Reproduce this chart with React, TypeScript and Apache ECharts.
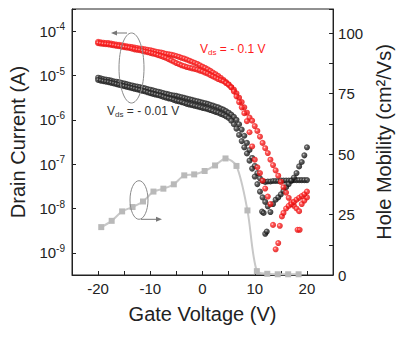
import React, { useEffect, useRef } from 'react';
import * as echarts from 'echarts';

// Gate voltage (V) vs drain current (A), two sweeps per drain bias
const redSweepA: [number, number][] = [
  [-20, 5.37e-5], [-19.5, 5.25e-5], [-19, 5.13e-5], [-18.5, 5.07e-5], [-18, 5.01e-5], [-17.5, 4.9e-5],
  [-17, 4.79e-5], [-16.5, 4.68e-5], [-16, 4.57e-5], [-15.5, 4.47e-5], [-15, 4.37e-5], [-14.5, 4.27e-5],
  [-14, 4.17e-5], [-13.5, 4.03e-5], [-13, 3.89e-5], [-12.5, 3.8e-5], [-12, 3.72e-5], [-11.5, 3.59e-5],
  [-11, 3.47e-5], [-10.5, 3.35e-5], [-10, 3.24e-5], [-9.5, 3.13e-5], [-9, 3.02e-5], [-8.5, 2.88e-5],
  [-8, 2.75e-5], [-7.5, 2.63e-5], [-7, 2.51e-5], [-6.5, 2.34e-5], [-6, 2.19e-5], [-5.5, 2.04e-5],
  [-5, 1.91e-5], [-4.5, 1.8e-5], [-4, 1.7e-5], [-3.5, 1.62e-5], [-3, 1.55e-5], [-2.5, 1.5e-5],
  [-2, 1.45e-5], [-1.5, 1.4e-5], [-1, 1.35e-5], [-0.5, 1.29e-5], [0, 1.23e-5], [0.5, 1.16e-5],
  [1, 1.1e-5], [1.5, 1.02e-5], [2, 9.55e-6], [2.5, 8.91e-6], [3, 8.32e-6], [3.5, 7.85e-6],
  [4, 7.41e-6], [4.5, 6.76e-6], [5, 6.17e-6], [5.5, 5.37e-6], [6, 4.37e-6], [6.5, 3.39e-6],
  [7, 2.51e-6], [7.5, 1.91e-6], [8, 1.41e-6], [8.5, 9.33e-7], [9, 5.25e-7], [9.5, 2.51e-7],
  [10, 1.26e-7], [10.5, 8.51e-8], [11, 6.31e-8], [11.5, 4.27e-8], [12, 2.82e-8], [12.5, 1.86e-8],
  [13, 1.26e-8], [13.5, 4.27e-9], [14, 1.2e-9], [14.5, 1.66e-9], [14.8, 4.07e-9], [15.2, 6.61e-9],
  [15.5, 7.94e-9], [16, 1.0e-8], [16.5, 1.15e-8], [17, 1.26e-8], [17.5, 1.41e-8], [18, 1.58e-8],
  [18.5, 1.74e-8], [19, 1.91e-8], [19.5, 2.09e-8], [20, 2.4e-8], [18.2, 3.31e-9], [18.6, 3.31e-9],
];

const redSweepB: [number, number][] = [
  [-20, 5.75e-5], [-19.5, 5.62e-5], [-19, 5.5e-5], [-18.5, 5.43e-5], [-18, 5.37e-5], [-17.5, 5.25e-5],
  [-17, 5.13e-5], [-16.5, 5.01e-5], [-16, 4.9e-5], [-15.5, 4.79e-5], [-15, 4.68e-5], [-14.5, 4.57e-5],
  [-14, 4.47e-5], [-13.5, 4.37e-5], [-13, 4.27e-5], [-12.5, 4.17e-5], [-12, 4.07e-5], [-11.5, 3.98e-5],
  [-11, 3.89e-5], [-10.5, 3.8e-5], [-10, 3.72e-5], [-9.5, 3.59e-5], [-9, 3.47e-5], [-8.5, 3.39e-5],
  [-8, 3.31e-5], [-7.5, 3.2e-5], [-7, 3.09e-5], [-6.5, 3.02e-5], [-6, 2.95e-5], [-5.5, 2.85e-5],
  [-5, 2.75e-5], [-4.5, 2.63e-5], [-4, 2.51e-5], [-3.5, 2.4e-5], [-3, 2.29e-5], [-2.5, 2.16e-5],
  [-2, 2.04e-5], [-1.5, 1.93e-5], [-1, 1.82e-5], [-0.5, 1.7e-5], [0, 1.58e-5], [0.5, 1.48e-5],
  [1, 1.38e-5], [1.5, 1.27e-5], [2, 1.17e-5], [2.5, 1.07e-5], [3, 9.77e-6], [3.5, 8.81e-6],
  [4, 7.94e-6], [4.5, 7.08e-6], [5, 6.31e-6], [5.5, 5.5e-6], [6, 4.79e-6], [6.5, 3.98e-6],
  [7, 3.16e-6], [7.5, 2.51e-6], [8, 1.91e-6], [8.5, 1.45e-6], [9, 1.12e-6], [9.5, 9.55e-7],
  [10, 7.24e-7], [10.5, 5.62e-7], [11, 4.17e-7], [11.5, 3.02e-7], [12, 2.29e-7], [12.5, 1.78e-7],
  [13, 1.26e-7], [13.5, 9.55e-8], [14, 7.24e-8], [14.5, 5.5e-8], [15, 3.98e-8], [15.5, 3.02e-8],
  [16, 2.29e-8], [16.5, 1.74e-8], [17, 1.38e-8], [17.5, 1.15e-8], [18, 1.0e-8], [18.5, 8.71e-9],
  [19, 1.26e-8], [19.5, 1.51e-8], [20, 1.78e-8],
];

const blackSweepA: [number, number][] = [
  [-20, 7.94e-6], [-19.5, 7.67e-6], [-19, 7.41e-6], [-18.5, 7.24e-6], [-18, 7.08e-6], [-17.5, 6.84e-6],
  [-17, 6.61e-6], [-16.5, 6.38e-6], [-16, 6.17e-6], [-15.5, 5.96e-6], [-15, 5.75e-6], [-14.5, 5.56e-6],
  [-14, 5.37e-6], [-13.5, 5.19e-6], [-13, 5.01e-6], [-12.5, 4.84e-6], [-12, 4.68e-6], [-11.5, 4.52e-6],
  [-11, 4.37e-6], [-10.5, 4.17e-6], [-10, 3.98e-6], [-9.5, 3.85e-6], [-9, 3.72e-6], [-8.5, 3.59e-6],
  [-8, 3.47e-6], [-7.5, 3.31e-6], [-7, 3.16e-6], [-6.5, 3.05e-6], [-6, 2.95e-6], [-5.5, 2.82e-6],
  [-5, 2.69e-6], [-4.5, 2.6e-6], [-4, 2.51e-6], [-3.5, 2.4e-6], [-3, 2.29e-6], [-2.5, 2.21e-6],
  [-2, 2.14e-6], [-1.5, 2.07e-6], [-1, 2.0e-6], [-0.5, 1.93e-6], [0, 1.86e-6], [0.5, 1.8e-6],
  [1, 1.74e-6], [1.5, 1.66e-6], [2, 1.58e-6], [2.5, 1.51e-6], [3, 1.45e-6], [3.5, 1.36e-6],
  [4, 1.29e-6], [4.5, 1.2e-6], [5, 1.1e-6], [5.5, 9.55e-7], [6, 7.94e-7], [6.5, 6.31e-7],
  [7, 4.57e-7], [7.5, 3.31e-7], [8, 2.4e-7], [8.5, 1.74e-7], [9, 1.2e-7], [9.5, 7.94e-8],
  [10, 5.25e-8], [10.5, 3.55e-8], [11, 2.4e-8], [11.5, 1.78e-8], [12, 1.41e-8], [12.5, 1.12e-8],
  [13, 8.32e-9], [13.5, 1.26e-8], [14, 1.58e-8], [14.5, 1.78e-8], [15, 2.09e-8], [15.5, 2.51e-8],
  [16, 3.02e-8], [16.5, 3.55e-8], [17, 4.27e-8], [17.5, 5.01e-8], [18, 6.31e-8], [18.5, 8.91e-8],
  [19, 1.12e-7], [19.5, 1.58e-7], [20, 2.4e-7], [11.4, 8.51e-9], [11.7, 7.94e-9], [12.0, 2.69e-9],
  [12.3, 3.02e-9],
];

const blackSweepB: [number, number][] = [
  [-20, 8.91e-6], [-19.5, 8.61e-6], [-19, 8.32e-6], [-18.5, 8.13e-6], [-18, 7.94e-6], [-17.5, 7.67e-6],
  [-17, 7.41e-6], [-16.5, 7.24e-6], [-16, 7.08e-6], [-15.5, 6.84e-6], [-15, 6.61e-6], [-14.5, 6.38e-6],
  [-14, 6.17e-6], [-13.5, 5.96e-6], [-13, 5.75e-6], [-12.5, 5.62e-6], [-12, 5.5e-6], [-11.5, 5.31e-6],
  [-11, 5.13e-6], [-10.5, 4.95e-6], [-10, 4.79e-6], [-9.5, 4.62e-6], [-9, 4.47e-6], [-8.5, 4.32e-6],
  [-8, 4.17e-6], [-7.5, 4.03e-6], [-7, 3.89e-6], [-6.5, 3.76e-6], [-6, 3.63e-6], [-5.5, 3.55e-6],
  [-5, 3.47e-6], [-4.5, 3.35e-6], [-4, 3.24e-6], [-3.5, 3.13e-6], [-3, 3.02e-6], [-2.5, 2.92e-6],
  [-2, 2.82e-6], [-1.5, 2.72e-6], [-1, 2.63e-6], [-0.5, 2.54e-6], [0, 2.45e-6], [0.5, 2.37e-6],
  [1, 2.29e-6], [1.5, 2.19e-6], [2, 2.09e-6], [2.5, 2.0e-6], [3, 1.91e-6], [3.5, 1.8e-6],
  [4, 1.7e-6], [4.5, 1.58e-6], [5, 1.45e-6], [5.5, 1.32e-6], [6, 1.17e-6], [6.5, 1.0e-6],
  [7, 7.94e-7], [7.5, 6.03e-7], [8, 4.37e-7], [8.5, 3.02e-7], [9, 2.09e-7], [9.5, 1.38e-7],
  [10, 9.12e-8], [10.5, 6.31e-8], [11, 4.79e-8], [11.5, 4.17e-8], [12, 3.98e-8], [12.5, 4.07e-8],
  [13, 4.07e-8], [13.5, 4.17e-8], [14, 4.17e-8], [14.5, 4.17e-8], [15, 4.27e-8], [15.5, 4.27e-8],
  [16, 4.27e-8], [16.5, 4.27e-8], [17, 4.27e-8], [17.5, 4.37e-8], [18, 4.37e-8], [18.5, 4.37e-8],
  [19, 4.37e-8], [19.5, 4.37e-8], [20, 4.37e-8],
];

// Gate voltage (V) vs hole mobility (cm²/Vs)
const mobility: [number, number][] = [
  [-19.4, 19.8], [-17.4, 22.4], [-15.4, 26.3], [-13.4, 28.1], [-11.4, 30.4], [-9.4, 34.5],
  [-7.5, 35.7], [-5.5, 37.5], [-3.5, 41.2], [-1.6, 41.6], [0.4, 43.0], [2.4, 45.3],
  [4.4, 48.2], [6.5, 45.1], [8.6, 26.7], [10.4, 1.6], [12.4, 0.5], [14.4, 0.3],
  [16.4, 0.3], [18.4, 0.3],
];

const xLabels = [-20, -10, 0, 10, 20];
const mobilityLabels = [0, 25, 50, 75, 100];

const FONT = 'Liberation Sans, Arial, sans-serif';

function sphere(light: string, mid: string, dark: string) {
  return new echarts.graphic.RadialGradient(0.38, 0.38, 0.62, [
    { offset: 0, color: light },
    { offset: 0.35, color: mid },
    { offset: 1, color: dark },
  ]);
}

export default function App() {
  const ref = useRef<HTMLDivElement>(null);
  useEffect(() => {
    document.body.style.margin = '0';
    if (!ref.current) return;
    const chart = echarts.init(ref.current, undefined, { renderer: 'svg' });
    const axisLineStyle = { color: '#222', width: 1 };
    const redStyle = { color: sphere('#ffd6d6', '#ff2a2a', '#dc0000') };
    const blackStyle = { color: sphere('#c8c8c8', '#3a3a3a', '#050505') };
    chart.setOption({
      animation: false,
      backgroundColor: '#ffffff',
      grid: { left: 72, right: 65, top: 9, bottom: 62, show: true, borderColor: '#222', borderWidth: 1 },
      xAxis: {
        type: 'value', min: -25, max: 25, interval: 5,
        name: 'Gate Voltage (V)', nameLocation: 'middle', nameGap: 29,
        nameTextStyle: { fontSize: 20, fontFamily: FONT, color: '#222' },
        axisLine: { onZero: false, lineStyle: axisLineStyle },
        axisTick: { inside: true, length: 4, lineStyle: axisLineStyle },
        axisLabel: {
          fontSize: 15, fontFamily: FONT, color: '#222', margin: 6,
          formatter: (v: number) => (xLabels.includes(v) ? String(v) : ''),
        },
        splitLine: { show: false },
      },
      yAxis: [
        {
          type: 'log', logBase: 10, min: 3.1623e-10, max: 3.1623e-4,
          name: 'Drain Current (A)', nameLocation: 'middle', nameGap: 44,
          nameTextStyle: { fontSize: 20, fontFamily: FONT, color: '#222' },
          axisLine: { onZero: false, lineStyle: axisLineStyle },
          axisTick: { inside: true, length: 4, lineStyle: axisLineStyle },
          axisLabel: {
            fontSize: 15, fontFamily: FONT, color: '#222', margin: 7,
            formatter: (v: number) => {
              const l = Math.log10(v);
              const e = Math.round(l);
              if (Math.abs(l - e) > 0.01) return '';
              return `10{sup|${e}}`;
            },
            rich: { sup: { fontSize: 10, fontFamily: FONT, color: '#222', padding: [0, 0, 9, 0] } },
          },
          splitLine: { show: false },
        },
        {
          type: 'value', min: 0, max: 110, interval: 12.5, position: 'right',
          name: 'Hole Mobility (cm²/Vs)', nameLocation: 'middle', nameGap: 38, nameRotate: 90,
          nameTextStyle: { fontSize: 20, fontFamily: FONT, color: '#222' },
          axisLine: { show: true, onZero: false, lineStyle: axisLineStyle },
          axisTick: { show: true, inside: true, length: 4, lineStyle: axisLineStyle },
          axisLabel: {
            fontSize: 15, fontFamily: FONT, color: '#222', margin: 5,
            formatter: (v: number) => (mobilityLabels.includes(v) ? String(v) : ''),
          },
          splitLine: { show: false },
        },
      ],
      series: [
        {
          type: 'line', yAxisIndex: 1, data: mobility, smooth: 0.3,
          symbol: 'rect', symbolSize: 6,
          itemStyle: { color: '#b9b9b9' },
          lineStyle: { color: '#c8c8c8', width: 2 },
          z: 1,
        },
        { type: 'scatter', yAxisIndex: 0, data: blackSweepB, symbolSize: 6, itemStyle: blackStyle, z: 2 },
        { type: 'scatter', yAxisIndex: 0, data: blackSweepA, symbolSize: 6, itemStyle: blackStyle, z: 2 },
        { type: 'scatter', yAxisIndex: 0, data: redSweepB, symbolSize: 6, itemStyle: redStyle, z: 3 },
        { type: 'scatter', yAxisIndex: 0, data: redSweepA, symbolSize: 6, itemStyle: redStyle, z: 3 },
      ],
      graphic: [
        { type: 'ellipse', shape: { cx: 131.5, cy: 68, rx: 12.5, ry: 35 }, style: { fill: 'none', stroke: '#8a8a8a', lineWidth: 1 }, z: 10 },
        { type: 'line', shape: { x1: 127, y1: 33, x2: 115, y2: 33 }, style: { stroke: '#777', lineWidth: 1 }, z: 10 },
        { type: 'polygon', shape: { points: [[111, 33], [117, 30.5], [117, 35.5]] }, style: { fill: '#777' }, z: 10 },
        { type: 'ellipse', shape: { cx: 139, cy: 200, rx: 9, ry: 19.3 }, style: { fill: 'none', stroke: '#8a8a8a', lineWidth: 1 }, z: 10 },
        { type: 'line', shape: { x1: 141, y1: 219.3, x2: 158, y2: 219.3 }, style: { stroke: '#777', lineWidth: 1 }, z: 10 },
        { type: 'polygon', shape: { points: [[162, 219.3], [156, 216.8], [156, 221.8]] }, style: { fill: '#777' }, z: 10 },
        {
          type: 'text', x: 200, y: 49, z: 10,
          style: {
            text: 'V{sub|ds} = - 0.1 V', fill: '#ff1a1a', fontSize: 12, fontFamily: FONT,
            verticalAlign: 'middle', align: 'left',
            rich: { sub: { fontSize: 8, fontFamily: FONT, fill: '#ff1a1a', padding: [7, 0, 0, 0] } },
          },
        },
        {
          type: 'text', x: 107, y: 111, z: 10,
          style: {
            text: 'V{sub|ds} = - 0.01 V', fill: '#333', fontSize: 12, fontFamily: FONT,
            verticalAlign: 'middle', align: 'left',
            rich: { sub: { fontSize: 8, fontFamily: FONT, fill: '#333', padding: [7, 0, 0, 0] } },
          },
        },
      ],
    });
    return () => chart.dispose();
  }, []);
  return <div ref={ref} style={{ width: 402, height: 337 }} />;
}
